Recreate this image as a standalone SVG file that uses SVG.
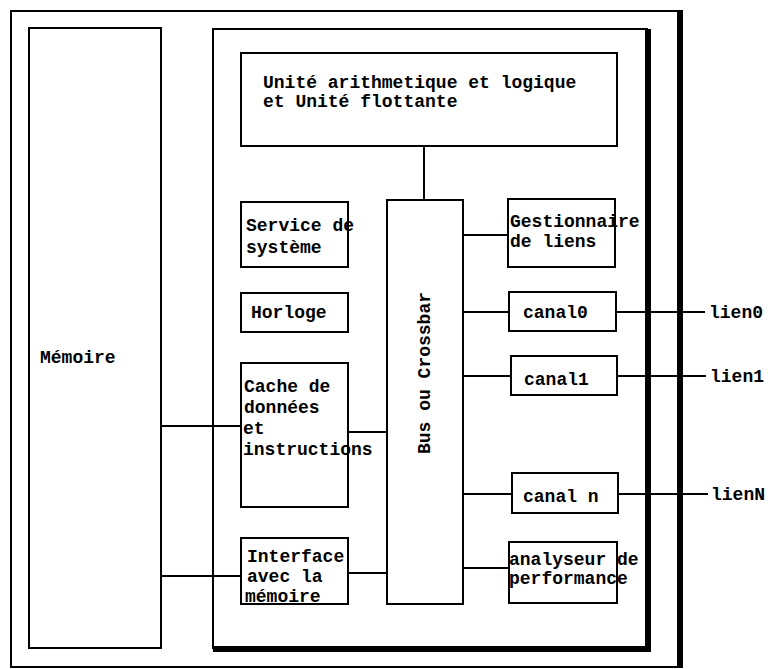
<svg xmlns="http://www.w3.org/2000/svg" width="768" height="669" viewBox="0 0 768 669">
  <style>
    .box { fill: #fff; stroke: #000; stroke-width: 2; }
    .frame { fill: none; stroke: #000; stroke-width: 2; }
    .edge { fill: none; stroke: #000; stroke-width: 2; }
    .heavy { fill: none; stroke: #000; stroke-width: 6; }
    text { font-family: "Liberation Mono", "Courier New", monospace; font-weight: bold; font-size: 18px; fill: #000; }
  </style>
  <rect x="0" y="0" width="768" height="669" fill="#fff"/>

  <!-- outer chip frame -->
  <g id="frame">
    <rect class="frame" x="11" y="11" width="669" height="656"/>
    <line class="heavy" x1="680" y1="10" x2="680" y2="668"/>
  </g>

  <!-- processor frame -->
  <g id="processor">
    <rect class="frame" x="213" y="29" width="434" height="619"/>
    <line class="heavy" x1="648" y1="29" x2="648" y2="652"/>
    <line class="heavy" x1="213" y1="649" x2="651" y2="649"/>
  </g>

  <!-- connectors -->
  <g id="connectors">
    <line class="edge" x1="424" y1="146" x2="424" y2="200"/>
    <line class="edge" x1="463" y1="235" x2="508" y2="235"/>
    <line class="edge" x1="463" y1="312" x2="509" y2="312"/>
    <line class="edge" x1="616" y1="312" x2="705" y2="312"/>
    <line class="edge" x1="463" y1="376" x2="511" y2="376"/>
    <line class="edge" x1="617" y1="376" x2="706" y2="376"/>
    <line class="edge" x1="463" y1="494" x2="512" y2="494"/>
    <line class="edge" x1="618" y1="494" x2="708" y2="494"/>
    <line class="edge" x1="463" y1="568" x2="509" y2="568"/>
    <line class="edge" x1="161" y1="426" x2="241" y2="426"/>
    <line class="edge" x1="348" y1="432" x2="387" y2="432"/>
    <line class="edge" x1="161" y1="576" x2="241" y2="576"/>
    <line class="edge" x1="348" y1="573" x2="387" y2="573"/>
  </g>

  <g id="memoire">
    <rect class="box" x="29" y="28" width="132" height="620"/>
    <text x="40" y="363">Mémoire</text>
  </g>

  <g id="alu">
    <rect class="box" x="241" y="53" width="376" height="93"/>
    <text x="263" y="88">Unité arithmetique et logique</text>
    <text x="263" y="107">et Unité flottante</text>
  </g>

  <g id="bus">
    <rect class="box" x="387" y="200" width="76" height="404"/>
    <text transform="translate(430 373) rotate(-90)" text-anchor="middle">Bus ou Crossbar</text>
  </g>

  <g id="service">
    <rect class="box" x="241" y="202" width="107" height="65"/>
    <text x="246" y="231">Service de</text>
    <text x="246" y="253">système</text>
  </g>

  <g id="horloge">
    <rect class="box" x="241" y="293" width="107" height="39"/>
    <text x="251" y="318">Horloge</text>
  </g>

  <g id="cache">
    <rect class="box" x="241" y="363" width="107" height="144"/>
    <text x="244" y="392">Cache de</text>
    <text x="244" y="413">données</text>
    <text x="243" y="434">et</text>
    <text x="243" y="455">instructions</text>
  </g>

  <g id="interface">
    <rect class="box" x="241" y="538" width="107" height="66"/>
    <text x="247" y="562">Interface</text>
    <text x="247" y="582">avec la</text>
    <text x="245" y="602">mémoire</text>
  </g>

  <g id="gestionnaire">
    <rect class="box" x="508" y="199" width="107" height="68"/>
    <text x="510" y="227">Gestionnaire</text>
    <text x="510" y="247">de liens</text>
  </g>

  <g id="canal0">
    <rect class="box" x="509" y="292" width="107" height="39"/>
    <text x="523" y="318">canal0</text>
  </g>

  <g id="canal1">
    <rect class="box" x="511" y="356" width="106" height="39"/>
    <text x="524" y="385">canal1</text>
  </g>

  <g id="canaln">
    <rect class="box" x="512" y="473" width="106" height="40"/>
    <text x="523" y="502">canal n</text>
  </g>

  <g id="analyseur">
    <rect class="box" x="509" y="542" width="108" height="61"/>
    <text x="509" y="565">analyseur de</text>
    <text x="509" y="584">performance</text>
  </g>

  <g id="liens">
    <text x="709" y="318">lien0</text>
    <text x="710" y="382">lien1</text>
    <text x="711" y="500">lienN</text>
  </g>
</svg>
